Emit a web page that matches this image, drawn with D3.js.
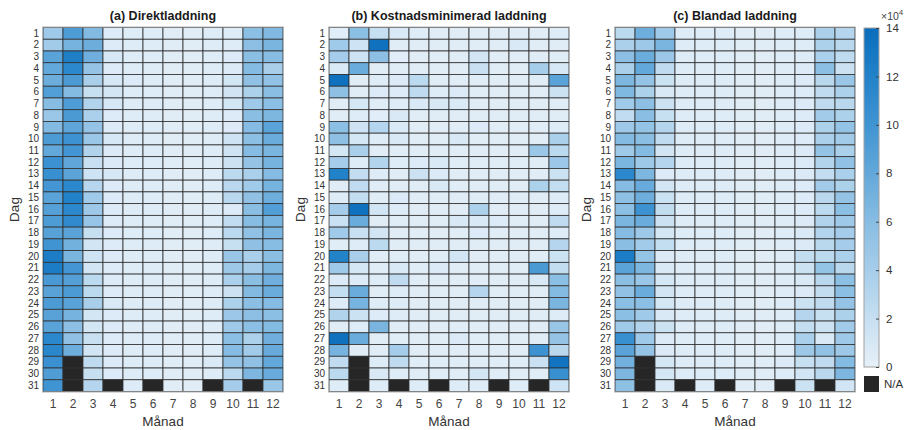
<!DOCTYPE html>
<html>
<head>
<meta charset="utf-8">
<script src="https://cdn.jsdelivr.net/npm/d3@7"></script>
<style>
  body { margin: 0; background: #fff; }
  svg { font-family: "Liberation Sans", Arial, sans-serif; }
</style>
</head>
<body>
<div id="chart"></div>
<script>
// categories
const months = [1, 2, 3, 4, 5, 6, 7, 8, 9, 10, 11, 12];
const days = d3.range(1, 32);
const titles = ["(a) Direktladdning", "(b) Kostnadsminimerad laddning", "(c) Blandad laddning"];
const cbTicks = [0, 2, 4, 6, 8, 10, 12, 14];

// values (x 10^4), one array per month, days 1..31, null = N/A
const direkt = [
  [4.5,4.3,8.5,8,7.5,9,6,4.8,6.3,9.3,8,10.3,10.5,9.8,8.5,8.8,9.2,8.7,10,12.5,12.5,9.5,8.6,9.3,8.6,8.5,11.3,11.4,10.4,9.1,10],
  [9.2,7,12.3,11.3,9.4,6.2,9.2,9.4,8.3,10.2,9.8,8.2,8.4,11.3,12,11.3,11.1,8.5,7.2,6.8,9.8,8.9,9.3,8.5,7,5.7,5.5,7.4,null,null,null],
  [6.3,7.5,7.3,5.2,3.8,2,3.3,3.7,5.2,4.8,3.3,1.9,1.5,2.9,4.4,4.6,5,2,1.3,1.5,1.3,2.7,2.6,3.9,1.2,1.2,1.9,1.3,2.5,2,3.1],
  [0.6,0.6,1,0.6,1,1.2,1,0.6,0.6,1,0.7,0.7,1,0.6,0.6,0.6,0.6,0.6,0.6,0.6,0.6,0.6,0.6,0.8,0.6,0.6,0.6,0.6,0.6,0.6,null],
  [0.5,0.5,0.5,0.5,0.6,0.5,0.5,0.5,0.5,0.5,0.5,0.5,0.5,0.5,0.5,0.5,0.5,0.5,0.5,0.5,0.5,0.5,0.5,0.5,0.5,0.5,0.5,0.5,0.5,0.5,0.6],
  [0.5,0.5,0.5,0.5,0.5,0.5,0.5,0.5,0.5,0.5,0.5,0.5,0.5,0.5,0.5,0.5,0.5,0.5,0.5,0.5,0.5,0.5,0.5,0.5,0.5,0.5,0.5,0.5,0.5,0.5,null],
  [0.4,0.4,0.4,0.4,0.4,0.4,0.4,0.4,0.4,0.4,0.4,0.4,0.4,0.4,0.4,0.4,0.4,0.4,0.4,0.4,0.4,0.4,0.4,0.4,0.4,0.4,0.4,0.4,0.4,0.4,0.4],
  [0.4,0.4,0.4,0.4,0.4,0.4,0.4,0.4,0.4,0.4,0.4,0.4,0.4,0.4,0.4,0.4,0.4,0.4,0.4,0.4,0.4,0.4,0.4,0.4,0.4,0.4,0.4,0.4,0.4,0.4,0.4],
  [0.5,0.5,0.5,0.5,0.5,0.5,0.5,0.5,0.5,0.5,0.5,0.5,0.5,0.5,0.5,0.5,0.5,0.5,0.5,0.5,0.5,0.5,0.5,0.5,0.5,0.5,0.5,0.5,0.8,0.5,null],
  [0.5,0.5,0.6,0.7,1.2,1.4,1.2,0.6,0.6,1.5,1.5,1.6,2.7,2.8,2.8,0.6,2.3,2.6,2,4.9,4.6,3.7,1.6,3.6,4.7,4.5,5.8,6.1,5.2,2.6,4.1],
  [5.8,5.7,5.9,6.2,5.5,3.6,4.5,5.9,6.1,5.8,6.1,5.2,3.7,4.4,5.5,5.9,6,5.4,5.5,3.8,4.1,5.9,6.3,5.8,5.7,5.8,3.6,4.3,5.5,6.6,null],
  [6.4,6.8,6,3.9,5.4,5.9,5.8,6.6,8.5,7.6,6.8,7,6.1,7,7.4,9,6.9,6.7,6,5.9,6.6,7.3,7.6,6.1,5.8,6.2,7.3,7.8,8,7.8,4.8]
];

const kostnad = [
  [0.3,4.4,4.1,0.8,13.5,5.6,0.4,0.4,5.8,5.6,1.1,4.1,12,0.4,0.5,4.1,1.8,4.4,0.4,11.9,4.5,0.6,2.1,0.5,3.3,0.4,13.5,7,2.3,2.6,0.5],
  [5.8,1.5,1.5,7.6,0.4,0.4,1.1,0.5,1.5,1.1,3.8,0.5,2.2,2.4,2.2,13.5,7.6,1.9,0.5,3.9,1.1,0.6,7.6,6.9,1.7,0.5,7.6,0.4,null,null,null],
  [2,13.5,5.7,0.4,0.5,0.6,0.4,0.3,3.1,0.5,0.4,3.2,0.5,0.4,0.4,1.3,0.4,1.3,2.6,0.4,0.4,0.5,0.4,0.5,0.6,6.8,0.4,0.4,0.5,0.9,0.5],
  [0.8,0.4,0.3,0.4,0.6,0.6,0.5,0.8,0.8,0.8,0.4,0.5,0.4,0.4,0.7,0.5,0.4,0.4,0.4,0.4,0.8,2.4,0.5,0.5,0.5,0.4,0.4,4.1,2.4,0.5,null],
  [0.5,0.4,0.4,0.4,2.6,2.5,0.8,0.4,0.4,0.4,0.4,0.6,1.6,0.4,0.4,0.4,0.4,0.4,0.4,0.4,0.4,0.4,0.4,0.4,0.4,0.4,0.4,0.4,0.4,0.4,0.5],
  [0.4,0.4,0.4,0.4,0.4,0.5,0.9,0.4,0.4,0.4,0.4,0.8,0.7,0.9,0.4,0.4,0.4,0.4,0.4,0.4,0.7,0.4,0.4,0.4,0.4,0.4,0.4,0.4,0.4,0.4,null],
  [0.4,0.4,0.4,0.4,0.4,0.7,0.8,0.4,0.4,0.9,0.4,0.4,0.4,0.4,0.4,0.4,0.9,0.4,0.4,1.3,0.4,0.4,0.4,0.4,0.4,0.4,0.7,0.4,0.4,0.4,0.5],
  [0.4,0.4,1.3,1.9,0.4,0.4,0.4,0.4,0.6,0.4,0.4,0.4,0.4,0.4,0.4,3.6,0.8,0.6,0.4,0.4,0.4,0.4,3.1,0.4,0.4,0.4,0.4,0.4,0.4,1.1,0.5],
  [0.4,0.4,0.4,0.4,0.4,0.4,0.4,0.4,0.4,0.4,0.4,0.4,0.4,0.4,0.4,0.4,0.6,0.4,0.4,0.4,0.4,0.4,0.4,0.4,0.4,0.4,0.4,0.4,0.4,0.4,null],
  [0.4,0.8,0.4,0.4,0.4,0.4,0.4,0.4,0.4,0.4,0.4,0.4,0.4,0.4,0.4,0.4,0.4,0.4,0.4,0.4,0.4,0.4,0.4,0.4,0.4,0.4,0.4,0.4,0.4,0.4,0.5],
  [0.4,0.4,0.4,4,0.4,0.4,0.4,0.4,0.4,0.4,4.8,0.4,0.4,3.6,0.4,0.4,0.4,0.4,0.4,0.4,9.4,0.9,0.4,0.4,0.4,0.4,0.4,10.2,1.8,0.4,null],
  [0.5,0.4,0.4,1,8.5,1.7,0.4,0.4,0.5,3.7,2.7,4.7,1.7,2.1,0.5,0.5,2.4,0.5,3.1,1.7,2.2,5.8,6.2,6.8,0.5,4.9,5.2,2.8,13.3,10.5,1.5]
];

const blandad = [
  [2.6,3.7,5.7,3.8,6.6,6.5,4.4,2.3,4.6,6.2,4.5,6.7,11.3,6.1,5.6,5.8,6.7,6.1,5.9,12.5,8.5,5.9,5.4,5.8,5.8,4.5,10.5,8.5,7.2,6.6,5.6],
  [7.4,4.6,7.6,8,5.2,3.6,5.7,5.9,5.3,5.9,6.2,4.6,6.6,7.8,7.4,10.2,7.6,4.6,4.3,5.3,6.6,4.8,7.6,5.8,4.4,3.3,4.5,5.2,null,null,null],
  [4.5,6.8,4.7,2.4,1.7,0.8,1.6,2,3.1,2.4,1.3,3.1,0.6,1.3,1.7,2.2,1.6,1.1,2.1,0.7,0.8,1.1,1.3,1.1,0.8,1.7,0.7,0.7,1.1,1.1,0.8],
  [0.5,0.5,0.5,0.5,0.5,0.5,0.5,0.5,0.5,0.5,0.5,0.5,0.5,0.5,0.5,0.5,0.5,0.5,0.5,0.5,0.5,0.5,0.5,0.5,0.5,0.5,0.5,0.5,0.5,0.5,null],
  [0.5,0.5,0.5,0.5,0.5,0.5,0.5,0.5,0.5,0.5,0.5,0.5,0.5,0.5,0.5,0.5,0.5,0.5,0.5,0.5,0.5,0.5,0.5,0.5,0.5,0.5,0.5,0.5,0.5,0.5,0.5],
  [0.5,0.5,0.5,0.5,0.5,0.5,0.5,0.5,0.5,0.5,0.5,0.5,0.5,0.5,0.5,0.5,0.5,0.5,0.5,0.5,0.5,0.5,0.5,0.5,0.5,0.5,0.5,0.5,0.5,0.5,null],
  [0.4,0.4,0.4,0.4,0.4,0.4,0.4,0.4,0.4,0.4,0.4,0.4,0.4,0.4,0.4,0.4,0.4,0.4,0.4,0.4,0.4,0.4,0.4,0.4,0.4,0.4,0.4,0.4,0.4,0.4,0.4],
  [0.4,0.4,0.4,0.4,0.4,0.4,0.4,0.4,0.4,0.4,0.4,0.4,0.4,0.4,0.4,0.4,0.4,0.4,0.4,0.4,0.4,0.4,0.4,0.4,0.4,0.4,0.4,0.4,0.4,0.4,0.4],
  [0.5,0.5,0.5,0.5,0.5,0.5,0.5,0.5,0.5,0.5,0.5,0.5,0.5,0.5,0.5,0.5,0.5,0.5,0.5,0.5,0.5,0.5,0.5,0.5,0.5,0.5,0.5,0.5,0.6,0.5,null],
  [0.5,0.5,0.5,0.6,0.6,0.6,0.6,0.6,0.6,0.6,0.7,0.7,0.7,0.6,0.6,0.6,0.7,0.8,0.7,2.2,1.7,0.8,0.7,1.7,3.1,2.1,3.7,4.6,2,1.3,1.7],
  [3.7,3.6,3.7,5.8,2.8,2.4,2.4,4.3,3.6,3.7,5.3,3.2,2.2,4.3,2.8,2.6,3.3,3.2,2.8,2.6,5.3,2.8,2.2,2.4,2,1.7,0.8,5.4,2.4,2.8,null],
  [3.1,2.8,2.5,1.6,4.8,3.6,2.8,3.6,5.3,4.3,3.7,5.4,3.7,3.6,5.2,5.8,4.5,4.1,4.1,3.7,2.8,5.8,5.8,5.2,3.6,4.3,4.5,4.6,6.2,6.6,1.3]
];

const panels = [direkt, kostnad, blandad];

const width = 905, height = 430;
const panelLeft = [43, 329, 615];
const panelW = 240;
const plotTop = 27.5, plotBottom = 391.5;

const color = d3.scaleLinear()
  .domain([0, 2, 4, 6, 8, 10, 12, 14])
  .range(["#e6f0f9", "#c6dff1", "#a6cdea", "#88bde3", "#63a8da", "#4094d2", "#2282c9", "#0a6cbc"])
  .clamp(true);
const naColor = "#262626";

const svg = d3.select("#chart").append("svg")
  .attr("width", width).attr("height", height);

panels.forEach((data, p) => {
  const x = d3.scaleBand().domain(months).range([panelLeft[p], panelLeft[p] + panelW]);
  const y = d3.scaleBand().domain(days).range([plotTop, plotBottom]);
  const g = svg.append("g");

  const cells = [];
  data.forEach((col, mi) => col.forEach((v, di) => cells.push({m: months[mi], d: days[di], v})));

  g.selectAll("rect.cell").data(cells).join("rect")
    .attr("class", "cell")
    .attr("x", d => x(d.m)).attr("y", d => y(d.d))
    .attr("width", x.bandwidth()).attr("height", y.bandwidth())
    .attr("fill", d => d.v == null ? naColor : color(d.v))
    .attr("stroke", "#303030").attr("stroke-width", 0.8);

  g.append("rect")
    .attr("x", panelLeft[p] - 0.5).attr("y", plotTop - 0.5)
    .attr("width", panelW + 1).attr("height", plotBottom - plotTop + 1)
    .attr("fill", "none").attr("stroke", "#b4b4b4").attr("stroke-width", 1);

  g.append("g")
    .attr("transform", `translate(${panelLeft[p] - 2},0)`)
    .call(d3.axisLeft(y).tickSize(0).tickPadding(2))
    .call(a => a.select(".domain").remove())
    .call(a => a.selectAll("text").attr("font-size", 10).attr("fill", "#333")
      .style("font-family", "'Liberation Sans', Arial, sans-serif"));

  g.append("g")
    .attr("transform", `translate(0,${plotBottom})`)
    .call(d3.axisBottom(x).tickSize(0).tickPadding(8))
    .call(a => a.select(".domain").remove())
    .call(a => a.selectAll("text").attr("font-size", 12).attr("fill", "#444")
      .style("font-family", "'Liberation Sans', Arial, sans-serif"));

  svg.append("text")
    .attr("x", panelLeft[p] + panelW / 2).attr("y", 20)
    .attr("text-anchor", "middle").attr("font-size", 12.5).attr("font-weight", "bold")
    .attr("fill", "#1a1a1a")
    .text(titles[p]);

  svg.append("text")
    .attr("x", panelLeft[p] + panelW / 2).attr("y", 426)
    .attr("text-anchor", "middle").attr("font-size", 13.5).attr("fill", "#333")
    .text("Månad");

  svg.append("text")
    .attr("transform", `translate(${panelLeft[p] - 24},${(plotTop + plotBottom) / 2}) rotate(-90)`)
    .attr("text-anchor", "middle").attr("font-size", 13.5).attr("fill", "#333")
    .text("Dag");
});

// colorbar
const cbX = 864, cbW = 15, cbTop = 28, cbBottom = 367;
const cbScale = d3.scaleLinear().domain([0, 14]).range([cbBottom, cbTop]);
const defs = svg.append("defs");
const grad = defs.append("linearGradient").attr("id", "cbGrad")
  .attr("x1", "0%").attr("x2", "0%").attr("y1", "100%").attr("y2", "0%");
color.domain().forEach(v => {
  grad.append("stop").attr("offset", (v / 14 * 100) + "%").attr("stop-color", color(v));
});
svg.append("rect")
  .attr("x", cbX).attr("y", cbTop).attr("width", cbW).attr("height", cbBottom - cbTop)
  .attr("fill", "url(#cbGrad)").attr("stroke", "#a0a0a0").attr("stroke-width", 1);

svg.append("g")
  .attr("transform", `translate(${cbX + cbW},0)`)
  .call(d3.axisRight(cbScale).tickValues(cbTicks).tickSize(-3).tickPadding(7))
  .call(a => a.select(".domain").remove())
  .call(a => a.selectAll("line").attr("stroke", "#444"))
  .call(a => a.selectAll("text").attr("font-size", 11.5).attr("fill", "#333")
    .style("font-family", "'Liberation Sans', Arial, sans-serif"));

const pow = svg.append("text").attr("x", 881).attr("y", 20)
  .attr("font-size", 10.5).attr("fill", "#444");
pow.append("tspan").text("×10");
pow.append("tspan").attr("dy", -5).attr("font-size", 8).text("4");

svg.append("rect")
  .attr("x", cbX).attr("y", 376).attr("width", cbW).attr("height", 16)
  .attr("fill", naColor);
svg.append("text").attr("x", 884).attr("y", 388)
  .attr("font-size", 11.5).attr("fill", "#333").text("N/A");
</script>
</body>
</html>
